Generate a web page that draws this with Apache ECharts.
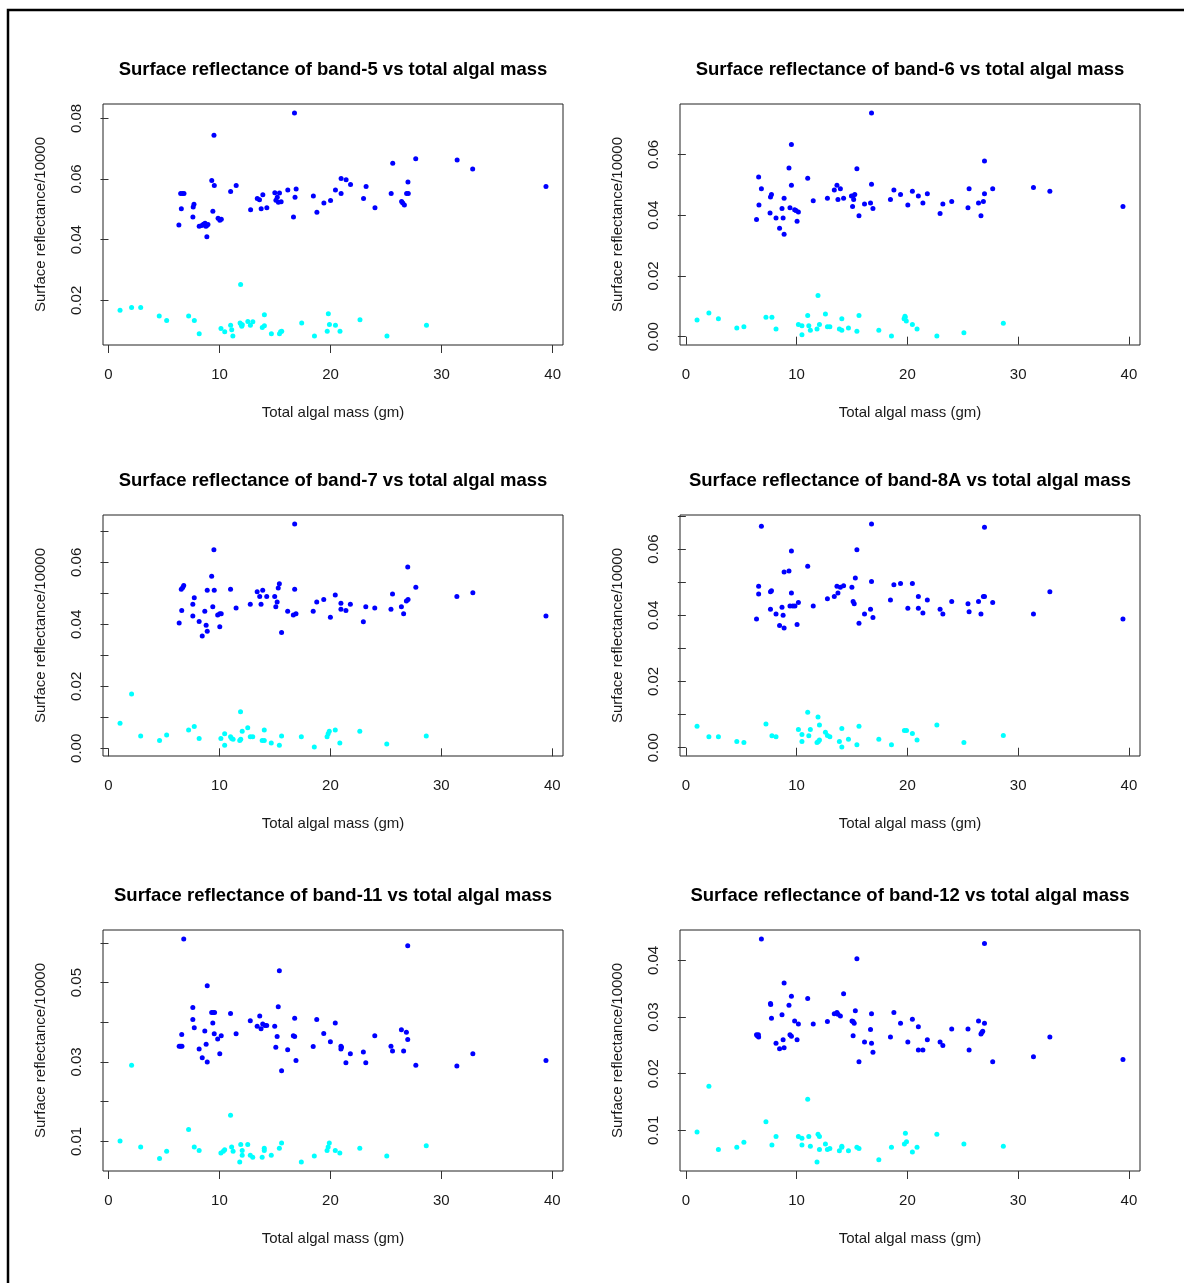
<!DOCTYPE html>
<html>
<head>
<meta charset="utf-8">
<script src="https://cdn.jsdelivr.net/npm/echarts@6/dist/echarts.min.js"></script>
<style>
  html, body { margin: 0; padding: 0; background: #fff; }
  #chart { width: 1184px; height: 1283px; }
</style>
</head>
<body>
<div id="chart"></div>
<script>
// Total algal mass (gm) vs surface reflectance (/10000) for six Sentinel-2 bands.
// Each band has two groups of samples: [mass, reflectance].

const xTicks = [0, 10, 20, 30, 40];

const band5Blue = [
  [6.34,0.0448],[6.56,0.0502],[6.50,0.0552],[6.66,0.0552],[6.80,0.0552],[7.60,0.0475],[7.63,0.0508],[7.70,0.0517],
  [8.17,0.0444],[8.40,0.0447],[8.55,0.0451],[8.70,0.0454],[8.77,0.0444],[8.83,0.0446],[8.96,0.0450],[8.86,0.0410],
  [9.30,0.0595],[9.40,0.0494],[9.50,0.0744],[9.53,0.0579],[9.87,0.0471],[10.03,0.0464],[10.16,0.0467],[11.00,0.0559],
  [11.50,0.0579],[12.80,0.0499],[13.40,0.0536],[13.60,0.0532],[13.75,0.0502],[13.90,0.0548],[14.26,0.0505],[14.98,0.0555],
  [15.08,0.0530],[15.20,0.0540],[15.30,0.0523],[15.40,0.0554],[15.55,0.0525],[16.15,0.0564],[16.66,0.0475],[16.75,0.0818],
  [16.80,0.0540],[16.90,0.0567],[18.45,0.0544],[18.77,0.0490],[19.40,0.0521],[20.00,0.0529],[20.44,0.0564],[20.95,0.0602],
  [20.95,0.0552],[21.40,0.0598],[21.80,0.0582],[22.97,0.0536],[23.20,0.0575],[24.00,0.0505],[25.46,0.0552],[25.60,0.0652],
  [26.40,0.0526],[26.50,0.0521],[26.65,0.0514],[26.85,0.0552],[27.00,0.0552],[26.97,0.0590],[27.67,0.0667],[31.40,0.0663],
  [32.80,0.0633],[39.40,0.0575]
];
const band5Cyan = [
  [1.04,0.0167],[2.08,0.0176],[2.90,0.0176],[4.57,0.0148],[5.24,0.0133],[7.22,0.0148],[7.73,0.0133],[8.17,0.0090],
  [10.13,0.0107],[10.47,0.0096],[11.00,0.0118],[11.10,0.0103],[11.20,0.0082],[11.90,0.0252],[11.85,0.0125],[11.95,0.0120],
  [12.00,0.0114],[12.05,0.0119],[12.55,0.0130],[12.78,0.0118],[13.00,0.0129],[13.85,0.0110],[14.04,0.0116],[14.04,0.0152],
  [14.67,0.0090],[15.40,0.0090],[15.50,0.0096],[15.60,0.0098],[17.40,0.0125],[18.55,0.0082],[19.70,0.0098],[19.80,0.0156],
  [19.90,0.0120],[20.44,0.0118],[20.85,0.0098],[22.65,0.0136],[25.08,0.0082],[28.64,0.0118]
];

const band6Blue = [
  [6.38,0.0386],[6.57,0.0526],[6.60,0.0434],[6.82,0.0487],[7.60,0.0407],[7.64,0.0460],[7.73,0.0468],[8.14,0.0391],
  [8.46,0.0357],[8.68,0.0422],[8.78,0.0391],[8.87,0.0456],[8.87,0.0337],[9.31,0.0556],[9.40,0.0425],[9.53,0.0633],
  [9.53,0.0499],[9.82,0.0418],[9.94,0.0416],[10.16,0.0411],[10.04,0.0380],[11.00,0.0522],[11.50,0.0448],[12.78,0.0456],
  [13.40,0.0483],[13.64,0.0499],[13.73,0.0452],[13.95,0.0487],[14.24,0.0456],[14.95,0.0463],[15.05,0.0429],[15.15,0.0452],
  [15.25,0.0468],[15.10,0.0463],[15.44,0.0553],[15.63,0.0398],[16.13,0.0437],[16.67,0.0440],[16.76,0.0502],[16.76,0.0737],
  [16.89,0.0422],[18.47,0.0452],[18.78,0.0483],[19.38,0.0468],[20.04,0.0434],[20.45,0.0479],[20.99,0.0463],[21.40,0.0440],
  [21.80,0.0471],[22.95,0.0406],[23.20,0.0437],[24.00,0.0445],[25.47,0.0425],[25.57,0.0487],[26.42,0.0440],[26.64,0.0398],
  [26.86,0.0445],[26.96,0.0579],[26.96,0.0471],[27.70,0.0487],[31.38,0.0491],[32.86,0.0479],[39.46,0.0429]
];
const band6Cyan = [
  [1.01,0.0055],[2.08,0.0078],[2.94,0.0059],[4.60,0.0029],[5.24,0.0033],[7.23,0.0064],[7.77,0.0064],[8.14,0.0025],
  [10.16,0.0040],[10.48,0.0036],[10.48,0.0006],[11.00,0.0070],[11.10,0.0036],[11.24,0.0021],[11.84,0.0025],[11.93,0.0136],
  [12.06,0.0040],[12.60,0.0075],[12.78,0.0033],[13.00,0.0033],[13.86,0.0025],[14.08,0.0021],[14.08,0.0059],[14.68,0.0029],
  [15.44,0.0018],[15.63,0.0070],[17.42,0.0021],[18.56,0.0002],[19.70,0.0059],[19.78,0.0067],[19.90,0.0052],[19.80,0.0064],
  [20.45,0.0040],[20.87,0.0025],[22.66,0.0002],[25.10,0.0013],[28.66,0.0044]
];

const band7Blue = [
  [6.37,0.0404],[6.60,0.0445],[6.56,0.0513],[6.69,0.0519],[6.78,0.0525],[7.60,0.0427],[7.60,0.0465],[7.73,0.0486],
  [8.17,0.0409],[8.45,0.0362],[8.68,0.0442],[8.80,0.0397],[8.90,0.0378],[8.90,0.0510],[9.30,0.0555],[9.40,0.0457],
  [9.50,0.0641],[9.53,0.0510],[9.84,0.0430],[10.03,0.0434],[10.03,0.0392],[10.16,0.0434],[11.00,0.0513],[11.50,0.0453],
  [12.78,0.0465],[13.40,0.0505],[13.63,0.0490],[13.75,0.0465],[13.90,0.0510],[14.26,0.0490],[14.98,0.0490],[15.08,0.0457],
  [15.20,0.0472],[15.30,0.0517],[15.40,0.0531],[15.60,0.0374],[16.15,0.0442],[16.66,0.0430],[16.78,0.0513],[16.78,0.0724],
  [16.90,0.0434],[18.45,0.0442],[18.77,0.0472],[19.40,0.0480],[20.00,0.0423],[20.44,0.0495],[20.95,0.0468],[20.95,0.0449],
  [21.40,0.0445],[21.80,0.0465],[22.97,0.0408],[23.19,0.0457],[24.00,0.0453],[25.46,0.0449],[25.60,0.0498],[26.40,0.0457],
  [26.60,0.0434],[26.85,0.0475],[27.00,0.0480],[26.97,0.0585],[27.70,0.0520],[31.40,0.0490],[32.84,0.0502],[39.43,0.0427]
];
const band7Cyan = [
  [1.04,0.0081],[2.08,0.0175],[2.90,0.0040],[4.60,0.0025],[5.24,0.0043],[7.22,0.0059],[7.73,0.0070],[8.17,0.0032],
  [10.13,0.0032],[10.47,0.0047],[10.47,0.0010],[11.00,0.0037],[11.10,0.0032],[11.23,0.0029],[11.83,0.0025],[11.92,0.0029],
  [11.90,0.0118],[12.05,0.0055],[12.55,0.0066],[12.78,0.0037],[13.00,0.0037],[13.85,0.0025],[14.04,0.0025],[14.04,0.0059],
  [14.67,0.0017],[15.40,0.0010],[15.60,0.0040],[17.38,0.0037],[18.55,0.0004],[19.70,0.0037],[19.80,0.0047],[19.90,0.0055],
  [20.44,0.0059],[20.85,0.0017],[22.65,0.0055],[25.08,0.0014],[28.64,0.0040]
];

const band8ABlue = [
  [6.38,0.0389],[6.57,0.0464],[6.57,0.0488],[6.82,0.0669],[7.64,0.0418],[7.73,0.0474],[7.64,0.0471],[8.14,0.0404],
  [8.46,0.0369],[8.68,0.0424],[8.78,0.0400],[8.87,0.0362],[8.87,0.0531],[9.31,0.0534],[9.40,0.0428],[9.53,0.0594],
  [9.53,0.0467],[9.66,0.0428],[9.85,0.0428],[10.04,0.0372],[10.16,0.0439],[11.00,0.0548],[11.50,0.0428],[12.78,0.0450],
  [13.40,0.0457],[13.64,0.0488],[13.73,0.0467],[13.95,0.0485],[14.24,0.0489],[14.99,0.0485],[15.10,0.0442],[15.20,0.0435],
  [15.30,0.0513],[15.44,0.0598],[15.63,0.0376],[16.13,0.0404],[16.67,0.0418],[16.76,0.0676],[16.76,0.0502],[16.89,0.0393],
  [18.47,0.0446],[18.78,0.0492],[19.38,0.0496],[20.04,0.0421],[20.45,0.0496],[20.99,0.0457],[20.99,0.0421],[21.40,0.0407],
  [21.80,0.0446],[22.95,0.0418],[23.20,0.0404],[24.00,0.0442],[25.47,0.0435],[25.57,0.0411],[26.42,0.0442],[26.64,0.0404],
  [26.86,0.0457],[26.96,0.0457],[26.96,0.0666],[27.70,0.0439],[31.38,0.0404],[32.86,0.0471],[39.46,0.0389]
];
const band8ACyan = [
  [1.01,0.0065],[2.08,0.0033],[2.94,0.0033],[4.60,0.0019],[5.24,0.0016],[7.23,0.0072],[7.77,0.0036],[8.14,0.0033],
  [10.16,0.0055],[10.48,0.0040],[10.48,0.0019],[11.00,0.0107],[11.10,0.0036],[11.24,0.0055],[11.84,0.0016],[11.96,0.0019],
  [12.06,0.0023],[11.93,0.0093],[12.06,0.0069],[12.60,0.0047],[12.78,0.0037],[13.00,0.0033],[13.86,0.0019],[14.08,0.0058],
  [14.08,0.0002],[14.68,0.0026],[15.44,0.0009],[15.63,0.0065],[17.42,0.0026],[18.56,0.0009],[19.73,0.0052],[19.92,0.0052],
  [20.45,0.0043],[20.87,0.0023],[22.66,0.0069],[25.10,0.0016],[28.66,0.0037]
];

const band11Blue = [
  [6.37,0.0340],[6.50,0.0340],[6.62,0.0340],[6.60,0.0369],[6.78,0.0610],[7.60,0.0437],[7.60,0.0407],[7.73,0.0386],
  [8.17,0.0333],[8.45,0.0311],[8.68,0.0378],[8.80,0.0345],[8.90,0.0300],[8.90,0.0492],[9.30,0.0425],[9.43,0.0425],
  [9.56,0.0425],[9.40,0.0398],[9.53,0.0371],[9.84,0.0358],[10.03,0.0321],[10.16,0.0366],[11.00,0.0422],[11.50,0.0371],
  [12.78,0.0404],[13.40,0.0390],[13.63,0.0416],[13.75,0.0384],[13.90,0.0396],[14.10,0.0392],[14.26,0.0392],[14.98,0.0390],
  [15.08,0.0337],[15.20,0.0364],[15.30,0.0439],[15.40,0.0530],[15.60,0.0278],[16.15,0.0331],[16.66,0.0366],[16.78,0.0364],
  [16.78,0.0410],[16.90,0.0304],[18.45,0.0339],[18.77,0.0407],[19.40,0.0372],[20.00,0.0351],[20.44,0.0398],[20.95,0.0340],
  [20.95,0.0333],[21.00,0.0337],[21.40,0.0298],[21.80,0.0321],[22.97,0.0325],[23.19,0.0298],[24.00,0.0366],[25.46,0.0340],
  [25.60,0.0328],[26.40,0.0381],[26.60,0.0328],[26.85,0.0375],[26.97,0.0357],[26.97,0.0593],[27.70,0.0292],[31.40,0.0290],
  [32.84,0.0321],[39.43,0.0304]
];
const band11Cyan = [
  [1.04,0.0101],[2.08,0.0292],[2.90,0.0086],[4.60,0.0057],[5.24,0.0075],[7.22,0.0130],[7.73,0.0086],[8.17,0.0077],
  [10.13,0.0071],[10.35,0.0075],[10.47,0.0079],[11.00,0.0166],[11.10,0.0086],[11.23,0.0075],[11.83,0.0048],[11.92,0.0092],
  [12.05,0.0077],[12.05,0.0065],[12.55,0.0092],[12.78,0.0065],[13.00,0.0060],[13.85,0.0060],[14.04,0.0083],[14.04,0.0077],
  [14.67,0.0065],[15.40,0.0083],[15.60,0.0096],[17.38,0.0048],[18.55,0.0063],[19.70,0.0077],[19.80,0.0086],[19.90,0.0096],
  [20.44,0.0077],[20.85,0.0071],[22.65,0.0083],[25.08,0.0063],[28.64,0.0089]
];

const band12Blue = [
  [6.38,0.0269],[6.45,0.0267],[6.57,0.0265],[6.55,0.0269],[6.82,0.0438],[7.64,0.0324],[7.66,0.0322],[7.73,0.0298],
  [8.14,0.0254],[8.46,0.0244],[8.68,0.0304],[8.78,0.0260],[8.87,0.0246],[8.87,0.0360],[9.31,0.0321],[9.40,0.0269],
  [9.53,0.0266],[9.53,0.0337],[9.82,0.0293],[10.04,0.0260],[10.16,0.0288],[11.00,0.0333],[11.50,0.0288],[12.78,0.0292],
  [13.40,0.0306],[13.64,0.0308],[13.73,0.0305],[13.95,0.0302],[14.24,0.0341],[15.00,0.0293],[15.10,0.0292],[15.20,0.0289],
  [15.30,0.0311],[15.10,0.0267],[15.44,0.0403],[15.63,0.0221],[16.13,0.0256],[16.67,0.0278],[16.76,0.0306],[16.76,0.0254],
  [16.89,0.0238],[18.47,0.0265],[18.78,0.0308],[19.38,0.0289],[20.04,0.0256],[20.45,0.0296],[20.99,0.0283],[20.99,0.0242],
  [21.40,0.0242],[21.80,0.0260],[22.95,0.0256],[23.20,0.0250],[24.00,0.0279],[25.47,0.0279],[25.57,0.0242],[26.42,0.0293],
  [26.64,0.0270],[26.72,0.0273],[26.80,0.0275],[26.96,0.0289],[26.96,0.0430],[27.70,0.0221],[31.38,0.0230],[32.86,0.0265],
  [39.46,0.0225]
];
const band12Cyan = [
  [1.01,0.0097],[2.08,0.0178],[2.94,0.0066],[4.60,0.0070],[5.24,0.0079],[7.23,0.0115],[7.77,0.0074],[8.14,0.0089],
  [10.16,0.0089],[10.48,0.0086],[10.48,0.0074],[11.00,0.0155],[11.10,0.0089],[11.24,0.0072],[11.84,0.0044],[11.93,0.0093],
  [12.06,0.0089],[12.06,0.0066],[12.60,0.0076],[12.78,0.0066],[13.00,0.0068],[13.86,0.0064],[14.08,0.0072],[14.08,0.0070],
  [14.68,0.0064],[15.44,0.0070],[15.63,0.0068],[17.42,0.0048],[18.56,0.0070],[19.73,0.0076],[19.82,0.0095],[19.92,0.0080],
  [20.45,0.0062],[20.87,0.0070],[22.66,0.0093],[25.10,0.0076],[28.66,0.0072]
];

// y-axis tick marks and which of them carry a label
const band5Ticks = [0.02, 0.04, 0.06, 0.08];
const band5Labels = [0.02, 0.04, 0.06, 0.08];
const band6Ticks = [0.00, 0.02, 0.04, 0.06];
const band6Labels = [0.00, 0.02, 0.04, 0.06];
const band7Ticks = [0.00, 0.01, 0.02, 0.03, 0.04, 0.05, 0.06, 0.07];
const band7Labels = [0.00, 0.02, 0.04, 0.06];
const band8ATicks = [0.00, 0.01, 0.02, 0.03, 0.04, 0.05, 0.06, 0.07];
const band8ALabels = [0.00, 0.02, 0.04, 0.06];
const band11Ticks = [0.01, 0.02, 0.03, 0.04, 0.05, 0.06];
const band11Labels = [0.01, 0.03, 0.05];
const band12Ticks = [0.01, 0.02, 0.03, 0.04];
const band12Labels = [0.01, 0.02, 0.03, 0.04];

const panels = [
  { band: '5',  blue: band5Blue,   cyan: band5Cyan,   ticks: band5Ticks,   labels: band5Labels },
  { band: '6',  blue: band6Blue,   cyan: band6Cyan,   ticks: band6Ticks,   labels: band6Labels },
  { band: '7',  blue: band7Blue,   cyan: band7Cyan,   ticks: band7Ticks,   labels: band7Labels },
  { band: '8A', blue: band8ABlue,  cyan: band8ACyan,  ticks: band8ATicks,  labels: band8ALabels },
  { band: '11', blue: band11Blue,  cyan: band11Cyan,  ticks: band11Ticks,  labels: band11Labels },
  { band: '12', blue: band12Blue,  cyan: band12Cyan,  ticks: band12Ticks,  labels: band12Labels }
];

// layout of the 3 x 2 panel grid (plot boxes, in px)
const FONT = '"Liberation Sans", Arial, Helvetica, sans-serif';
const TEXT = '#1a1a1a';
const colLeft = [103, 680];
const rowTop = [104, 515, 930];
const boxW = 460, boxH = 241;

// base-graphics style range: data extent padded by 4% on each side
function paddedRange(values) {
  let lo = Math.min.apply(null, values), hi = Math.max.apply(null, values);
  const pad = (hi - lo) * 0.04;
  return [lo - pad, hi + pad];
}

const grids = [], xAxes = [], yAxes = [], series = [], graphics = [];

panels.forEach((p, i) => {
  const left = colLeft[i % 2], top = rowTop[Math.floor(i / 2)];
  grids.push({
    left: left, top: top, width: boxW, height: boxH,
    show: true, borderColor: '#222', borderWidth: 1, backgroundColor: 'transparent'
  });
  const all = p.blue.concat(p.cyan);
  const xr = paddedRange(all.map(d => d[0]));
  const yr = paddedRange(all.map(d => d[1]));
  xAxes.push({
    type: 'value', gridIndex: i, min: xr[0], max: xr[1],
    name: 'Total algal mass (gm)', nameLocation: 'middle', nameGap: 60,
    nameTextStyle: { fontFamily: FONT, fontSize: 15, color: TEXT },
    axisLine: { show: false },
    axisTick: { show: true, inside: false, length: 8, customValues: xTicks, lineStyle: { color: '#333', width: 1 } },
    axisLabel: { show: true, margin: 22, customValues: xTicks, fontFamily: FONT, fontSize: 15, color: TEXT,
                 formatter: v => String(v) },
    splitLine: { show: false }
  });
  yAxes.push({
    type: 'value', gridIndex: i, min: yr[0], max: yr[1],
    name: 'Surface reflectance/10000', nameLocation: 'middle', nameGap: 55, nameRotate: 90,
    nameTextStyle: { fontFamily: FONT, fontSize: 15, color: TEXT },
    axisLine: { show: false },
    axisTick: { show: true, inside: false, length: 8, customValues: p.ticks, lineStyle: { color: '#333', width: 1 } },
    axisLabel: { show: true, rotate: 90, margin: 19, customValues: p.labels, fontFamily: FONT, fontSize: 15, color: TEXT,
                 formatter: v => v.toFixed(2) },
    splitLine: { show: false }
  });
  series.push({
    type: 'scatter', xAxisIndex: i, yAxisIndex: i, data: p.blue,
    symbol: 'circle', symbolSize: 5, itemStyle: { color: '#0000ff', opacity: 1 }, silent: true, animation: false
  });
  series.push({
    type: 'scatter', xAxisIndex: i, yAxisIndex: i, data: p.cyan,
    symbol: 'circle', symbolSize: 5, itemStyle: { color: '#00ffff', opacity: 1 }, silent: true, animation: false
  });
  graphics.push({
    type: 'text', x: left + boxW / 2, y: top - 34,
    style: {
      text: 'Surface reflectance of band-' + p.band + ' vs total algal mass',
      font: 'bold 18.5px ' + FONT, fill: '#000', align: 'center', verticalAlign: 'middle'
    }
  });
});

// outer frame (top and left edges visible; right/bottom run past the canvas)
graphics.push({
  type: 'rect', shape: { x: 8, y: 10, width: 1200, height: 1300 },
  style: { fill: 'none', stroke: '#000', lineWidth: 2.5 }, silent: true
});

const chart = echarts.init(document.getElementById('chart'), null, { renderer: 'canvas' });
chart.setOption({
  backgroundColor: '#fff',
  animation: false,
  grid: grids,
  xAxis: xAxes,
  yAxis: yAxes,
  series: series,
  graphic: graphics
});
</script>
</body>
</html>
